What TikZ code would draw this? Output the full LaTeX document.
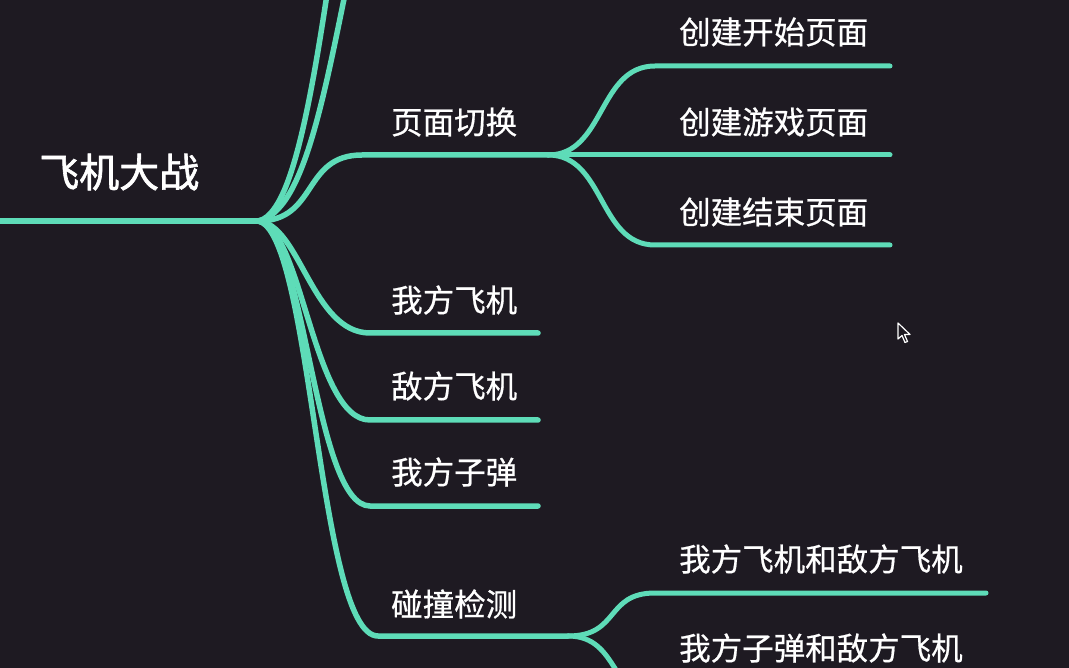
\documentclass[tikz,border=0pt]{standalone}
\usepackage{fontspec}
\newfontfamily\cjk[FakeBold=0.6]{Noto Sans CJK SC}
\newfontfamily\cjkroot[FakeBold=1.6]{Noto Sans CJK SC}
\definecolor{bgc}{HTML}{1E1A22}
\definecolor{branchc}{HTML}{5EDCB8}
\begin{document}
\begin{tikzpicture}[x=1pt,y=-1pt,
  branch/.style={draw=branchc,line width=5.5pt,line cap=round},
  subbranch/.style={draw=branchc,line width=5pt,line cap=round},
  lbl/.style={text=white,font=\cjk\fontsize{31.5}{36}\selectfont,anchor=west,inner sep=0pt},
  rootlbl/.style={text=white,font=\cjkroot\fontsize{40}{46}\selectfont,anchor=west,inner sep=0pt}]
\fill[bgc] (0,0) rectangle (1069,668);
\useasboundingbox (0,0) rectangle (1069,668);
\clip (0,0) rectangle (1069,668);

% coordinates
\coordinate (r0) at (-10,221);
\coordinate (rj) at (258,221);
\coordinate (up1) at (335,-60);
\coordinate (up2) at (352,-40);
\coordinate (b1s) at (362,155);
\coordinate (b1j) at (548,155);
\coordinate (b2s) at (370,333);
\coordinate (b2e) at (538,333);
\coordinate (b3s) at (370,420);
\coordinate (b3e) at (538,420);
\coordinate (b4s) at (370,506);
\coordinate (b4e) at (538,506);
\coordinate (b5s) at (378,636);
\coordinate (b5j) at (568,636);
\coordinate (s1s) at (655,66);
\coordinate (s1e) at (890,66);
\coordinate (s2e) at (890,155);
\coordinate (s3s) at (655,245);
\coordinate (s3e) at (890,245);
\coordinate (s4s) at (655,593);
\coordinate (s4e) at (986,593);
\coordinate (s5s) at (660,700);

% root
\draw[branch,line width=6pt] (r0) -- (rj);
\node[rootlbl] (root) at (39,172) {飞机大战};

% branches going up (off the page)
\draw[branch] (rj) .. controls (292,215) and (312,100) .. (up1);
\draw[branch] (rj) .. controls (305,212) and (325,90) .. (up2);

% 页面切换
\draw[branch] (rj) .. controls (318,221) and (302,155) .. (b1s) -- (b1j);
\node[lbl] (n1) at (391,122) {页面切换};
\draw[subbranch] (b1j) .. controls (605,155) and (598,66) .. (s1s) -- (s1e);
\draw[subbranch] (b1j) -- (s2e);
\draw[subbranch] (b1j) .. controls (605,155) and (598,245) .. (s3s) -- (s3e);
\node[lbl] (c1) at (679,32) {创建开始页面};
\node[lbl] (c2) at (679,122) {创建游戏页面};
\node[lbl] (c3) at (679,212) {创建结束页面};

% 我方飞机 / 敌方飞机 / 我方子弹
\draw[branch] (rj) .. controls (300,224) and (312,333) .. (b2s) -- (b2e);
\draw[branch] (rj) .. controls (302,226) and (313,420) .. (b3s) -- (b3e);
\draw[branch] (rj) .. controls (305,228) and (314,506) .. (b4s) -- (b4e);
\node[lbl] (n2) at (391,300) {我方飞机};
\node[lbl] (n3) at (391,386) {敌方飞机};
\node[lbl] (n4) at (391,472) {我方子弹};

% 碰撞检测
\draw[branch] (rj) .. controls (312,230) and (318,636) .. (b5s) -- (b5j);
\node[lbl] (n5) at (391,604) {碰撞检测};
\draw[subbranch] (b5j) .. controls (620,636) and (605,593) .. (s4s) -- (s4e);
\draw[subbranch] (b5j) .. controls (620,636) and (610,700) .. (s5s);
\node[lbl] (c4) at (679,559) {我方飞机和敌方飞机};
\node[lbl] (c5) at (679,648) {我方子弹和敌方飞机};

% mouse cursor
\draw[white,fill=bgc,line width=1.2pt,line join=round]
  (898,323) -- (898,339) -- (902,335.5) -- (905,342.5) -- (907.5,341.5) -- (904.5,334.5) -- (910,334.5) -- cycle;
\end{tikzpicture}
\end{document}
